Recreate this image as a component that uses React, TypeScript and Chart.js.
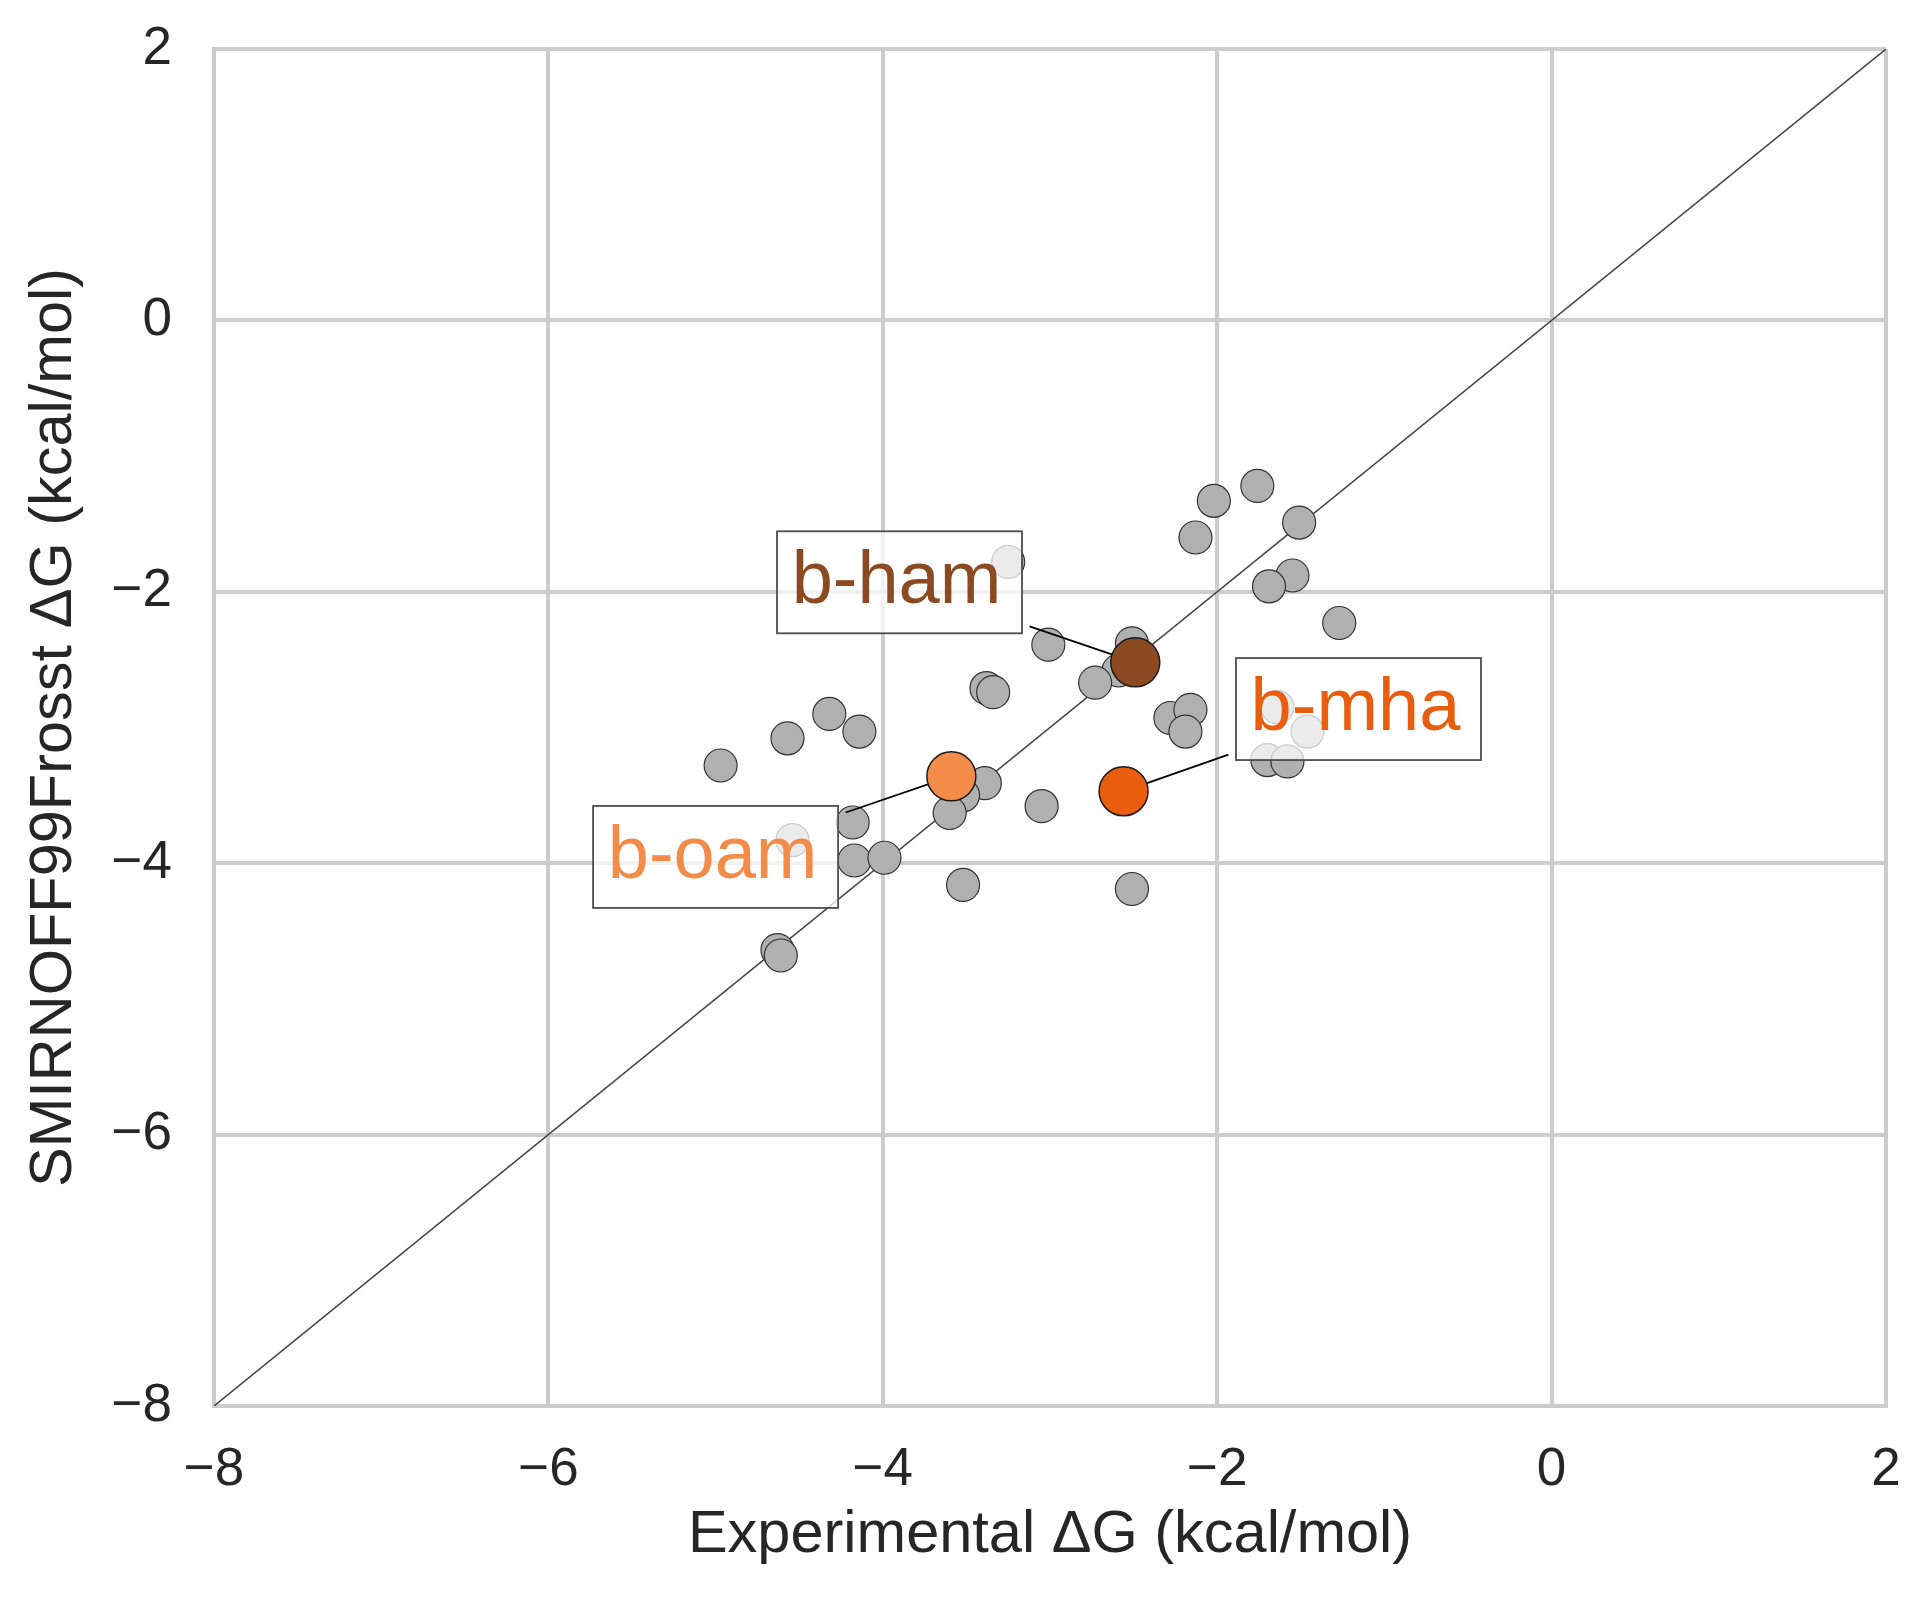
import React, { useEffect, useRef } from 'react';
import { Chart, registerables } from 'chart.js';

Chart.register(...registerables);

// ---- data ----
const GREY_X = [-4.97, -4.57, -4.32, -4.14, -3.38, -3.34, -3.25, -1.76, -2.02, -2.13, -1.51, -1.55, -1.69, -3.01, -2.51, -2.59, -2.73, -2.28, -2.16, -2.19, -1.64, -1.46, -1.70, -1.58, -3.39, -3.52, -3.60, -4.18, -4.54, -4.17, -3.99, -3.52, -4.63, -4.61, -3.05, -2.51, -1.27];
const GREY_Y = [-3.28, -3.08, -2.90, -3.03, -2.71, -2.74, -1.78, -1.22, -1.33, -1.60, -1.49, -1.88, -1.96, -2.39, -2.38, -2.58, -2.67, -2.93, -2.87, -3.03, -2.85, -3.03, -3.24, -3.25, -3.41, -3.50, -3.63, -3.70, -3.83, -3.98, -3.96, -4.16, -4.64, -4.68, -3.58, -4.19, -2.23];

const HOST_NAMES = ['b-ham', 'b-mha', 'b-oam'];
const HOST_X = [-2.49, -2.56, -3.59];
const HOST_Y = [-2.52, -3.47, -3.36];
// label box centres, in data coordinates
const LABEL_X = [-3.90, -1.155, -5.00];
const LABEL_Y = [-1.93, -2.864, -3.954];

const AXIS_TICKS = [-8, -6, -4, -2, 0, 2];
const IDENTITY = [-8, 2];

const X_TITLE = 'Experimental ΔG (kcal/mol)';
const Y_TITLE = 'SMIRNOFF99Frosst ΔG (kcal/mol)';

// ---- styles ----
const HOST_COLORS = ['#8c4a22', '#e85e0e', '#f28c48'];
const FONT = '"Liberation Sans", Arial, Helvetica, sans-serif';
const TEXT_COLOR = '#262626';
const GRID_COLOR = '#cccccc';
const BOX_W = 245;
const BOX_H = 102;
const LABEL_FONT_SIZE = 74;

const fmt = (v: number) => (v < 0 ? '\u2212' + Math.abs(v) : String(v));

const annotPlugin = {
  id: 'hostAnnotations',
  beforeDatasetDraw(chart: any, args: any) {
    if (args.index !== 2) return;
    const { ctx, scales } = chart;
    ctx.save();
    ctx.strokeStyle = '#000000';
    ctx.lineWidth = 1.8;
    for (let i = 0; i < HOST_NAMES.length; i++) {
      const cx = scales.x.getPixelForValue(LABEL_X[i]);
      const cy = scales.y.getPixelForValue(LABEL_Y[i]);
      const px = scales.x.getPixelForValue(HOST_X[i]);
      const py = scales.y.getPixelForValue(HOST_Y[i]);
      const dx = px - cx;
      const dy = py - cy;
      const len = Math.hypot(dx, dy);
      const tx = BOX_W / 2 / Math.abs(dx || 1e-9);
      const ty = BOX_H / 2 / Math.abs(dy || 1e-9);
      const t = Math.min(tx, ty);
      const sx = cx + dx * t + (dx / len) * 8;
      const sy = cy + dy * t + (dy / len) * 8;
      ctx.beginPath();
      ctx.moveTo(sx, sy);
      ctx.lineTo(px, py);
      ctx.stroke();
    }
    ctx.restore();
  },
  afterDatasetsDraw(chart: any) {
    const { ctx, scales } = chart;
    ctx.save();
    for (let i = 0; i < HOST_NAMES.length; i++) {
      const cx = scales.x.getPixelForValue(LABEL_X[i]);
      const cy = scales.y.getPixelForValue(LABEL_Y[i]);
      ctx.fillStyle = 'rgba(255,255,255,0.75)';
      ctx.fillRect(cx - BOX_W / 2, cy - BOX_H / 2, BOX_W, BOX_H);
      ctx.strokeStyle = '#4d4d4d';
      ctx.lineWidth = 1.8;
      ctx.strokeRect(cx - BOX_W / 2, cy - BOX_H / 2, BOX_W, BOX_H);
      ctx.fillStyle = HOST_COLORS[i];
      ctx.font = `${LABEL_FONT_SIZE}px ${FONT}`;
      ctx.textAlign = 'center';
      ctx.textBaseline = 'alphabetic';
      ctx.fillText(HOST_NAMES[i], cx - 3, cy + 21);
    }
    ctx.restore();
  },
};

export default function App() {
  const ref = useRef<HTMLCanvasElement>(null);

  useEffect(() => {
    if (!ref.current) return;
    Chart.defaults.font.family = FONT;
    const greyData = GREY_X.map((x, i) => ({ x, y: GREY_Y[i] }));
    const hostData = HOST_X.map((x, i) => ({ x, y: HOST_Y[i] }));
    const idData = IDENTITY.map((v) => ({ x: v, y: v }));

    const axis = (title: string, isX: boolean) => ({
      type: 'linear' as const,
      min: AXIS_TICKS[0],
      max: AXIS_TICKS[AXIS_TICKS.length - 1],
      afterBuildTicks: (scale: any) => {
        scale.ticks = AXIS_TICKS.map((v) => ({ value: v }));
      },
      afterFit: (scale: any) => {
        if (isX) scale.height = 192;
        else scale.width = 214;
        scale.paddingTop = 0;
        scale.paddingBottom = 0;
        scale.paddingLeft = 0;
        scale.paddingRight = 0;
      },
      grid: { color: GRID_COLOR, lineWidth: 4, drawTicks: false },
      border: { display: true, color: GRID_COLOR, width: 4 },
      ticks: {
        color: TEXT_COLOR,
        font: { size: 53, family: FONT },
        padding: isX ? 33 : 42,
        maxRotation: 0,
        autoSkip: false,
        callback: (v: any) => fmt(Number(v)),
      },
      title: {
        display: true,
        text: title,
        color: TEXT_COLOR,
        font: { size: 59.5, family: FONT, lineHeight: 1 },
        padding: isX ? { top: 0, bottom: 33 } : { top: 25, bottom: 0 },
      },
    });

    const chart = new Chart(ref.current, {
      type: 'scatter',
      data: {
        datasets: [
          {
            type: 'line',
            data: idData,
            borderColor: '#444444',
            borderWidth: 1.5,
            pointRadius: 0,
            fill: false,
            order: 3,
          } as any,
          {
            data: greyData,
            backgroundColor: '#b0b0b0',
            borderColor: '#333333',
            borderWidth: 1.2,
            pointRadius: 16.5,
            order: 2,
          },
          {
            data: hostData,
            backgroundColor: HOST_COLORS,
            borderColor: '#1a1a1a',
            borderWidth: 1.5,
            pointRadius: 24.5,
            order: 1,
          },
        ],
      },
      options: {
        responsive: false,
        animation: false,
        devicePixelRatio: 1,
        layout: { padding: { left: 0, right: 45, top: 49, bottom: 0 } },
        plugins: {
          legend: { display: false },
          tooltip: { enabled: false },
        },
        scales: {
          x: axis(X_TITLE, true),
          y: axis(Y_TITLE, false),
        },
      },
      plugins: [annotPlugin],
    });
    return () => chart.destroy();
  }, []);

  return (
    <div style={{ position: 'fixed', left: 0, top: 0, width: 1931, height: 1598, background: '#ffffff' }}>
      <canvas ref={ref} width={1931} height={1598} style={{ display: 'block', width: 1931, height: 1598 }} />
    </div>
  );
}
